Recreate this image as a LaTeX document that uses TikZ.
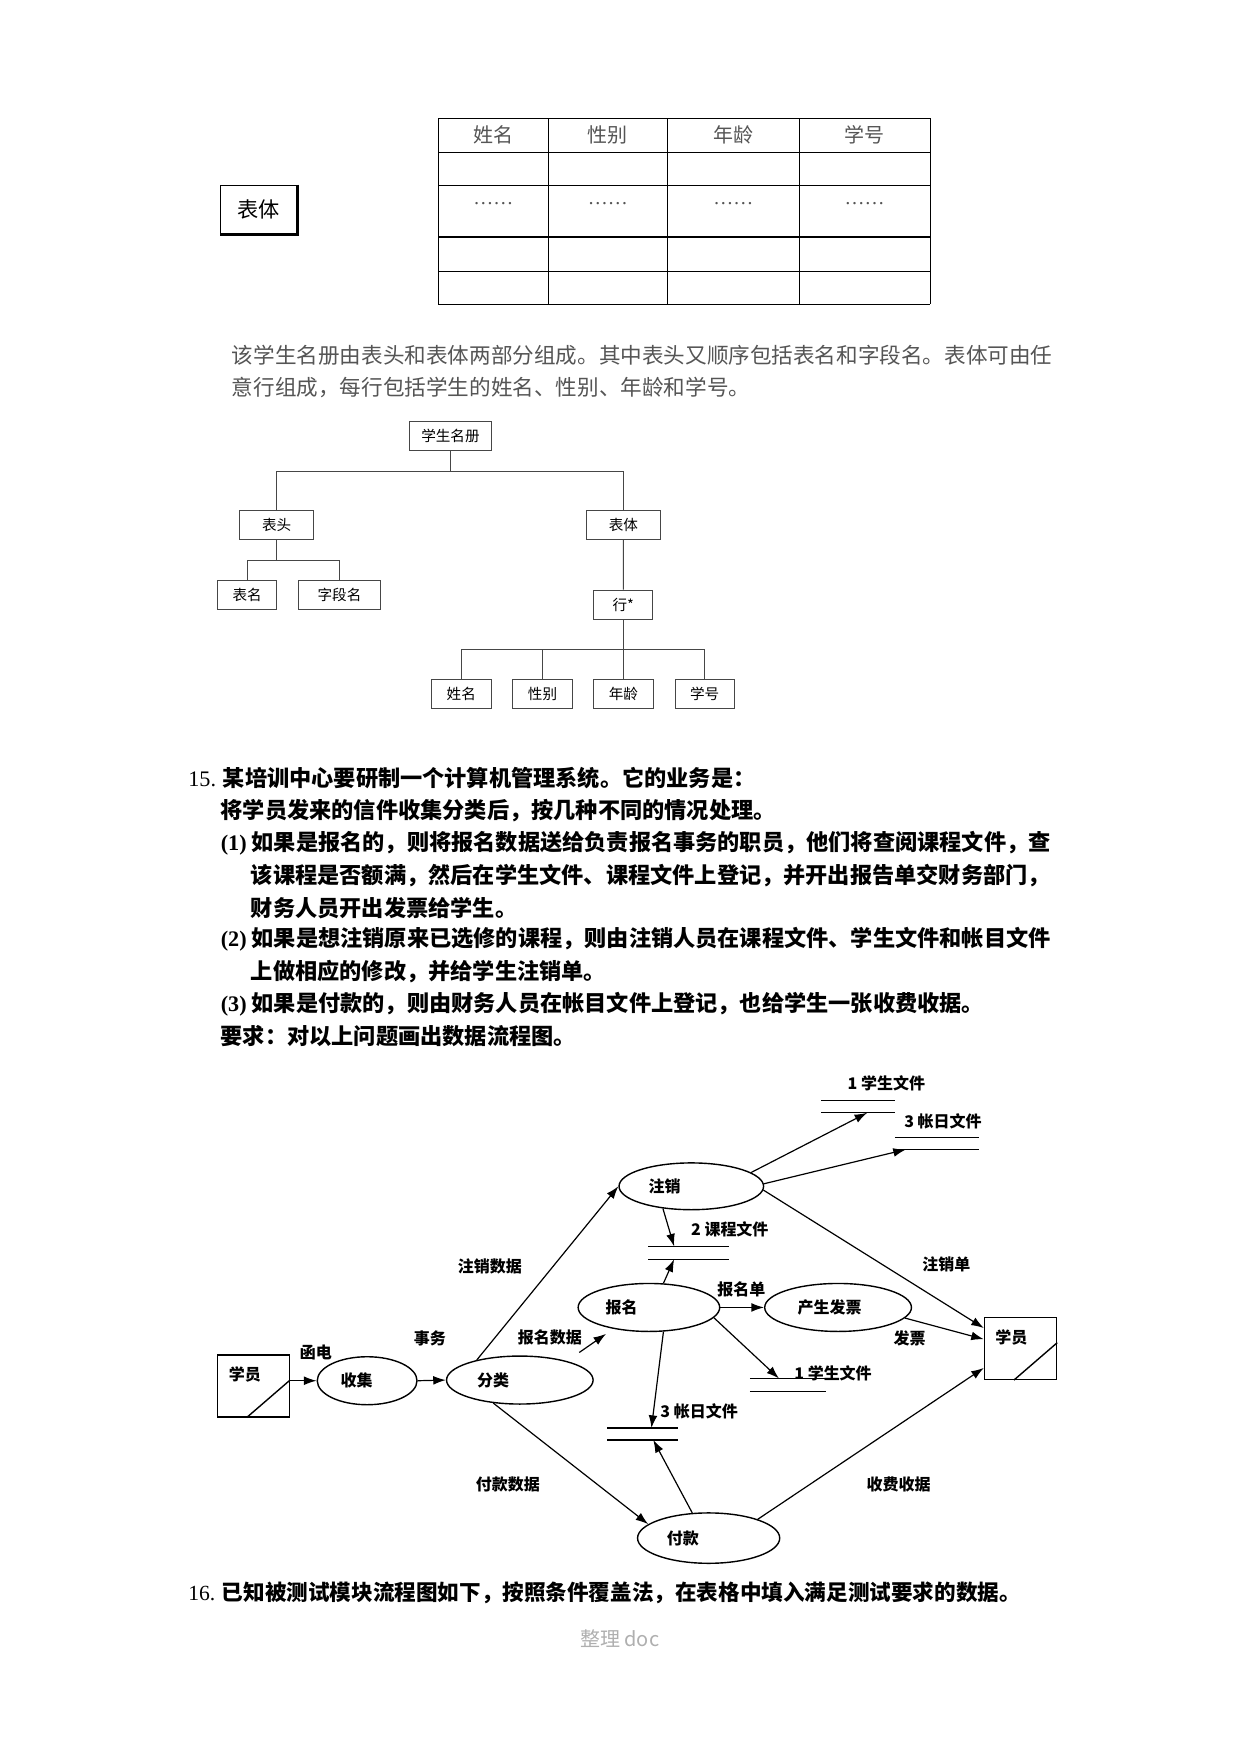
\documentclass[tikz,border=0pt]{standalone}
\usepackage{fontspec}
\setmainfont{Liberation Serif}
\newfontfamily\cjk{Noto Sans CJK SC}
\usetikzlibrary{shapes.geometric,arrows.meta,positioning,calc}
\definecolor{textgray}{RGB}{85,85,85}
\definecolor{treegray}{RGB}{70,70,70}
\definecolor{footgray}{RGB}{175,175,175}

\begin{document}
\begin{tikzpicture}[x=0.5595pt, y=-0.5595pt,
  hd/.style={inner sep=0, text=textgray, font=\cjk\fontsize{10}{12}\selectfont},
  para/.style={anchor=west, inner sep=0, text=textgray, font=\cjk\fontsize{10.8}{13}\selectfont},
  qline/.style={anchor=west, inner sep=0, font=\cjk\bfseries\fontsize{11.1}{13}\selectfont},
  tbox/.style={draw=treegray, line width=0.5pt, minimum height=14.5pt, inner sep=0, font=\cjk\fontsize{7.3}{8}\selectfont},
  proc/.style={draw, ellipse, line width=0.7pt, minimum height=24pt, inner sep=0},
  ext/.style={draw, line width=0.7pt, minimum width=36pt, minimum height=31pt, inner sep=0},
  store/.style={minimum height=5.6pt, inner sep=0},
  flow/.style={-{Latex[length=6.3pt,width=4.4pt]}, line width=0.6pt},
  lbl/.style={inner sep=0, font=\cjk\bfseries\fontsize{8}{9}\selectfont},
  every label/.style={inner sep=0, font=\cjk\bfseries\fontsize{8}{9}\selectfont},
]
\useasboundingbox (0,0) rectangle (1109,1568);
\fill[white] (0,0) rectangle (1109,1568);

% table of the register
\foreach \y in {105.7,136.1,165.6,211.8,242.5,272}
  \draw[line width=0.6pt] (391.7,\y) -- (831.6,\y);
\foreach \x in {391.7,490.4,596.5,714.5,831.6}
  \draw[line width=0.6pt] (\x,105.7) -- (\x,272);
\foreach \x/\t [count=\i] in {441/姓名,543.5/性别,655.5/年龄,773/学号} {
  \node[hd] (col\i) at (\x,120.6) {\t};
  \node[hd, font=\rmfamily\fontsize{10}{12}\selectfont] (dot\i) at (\x,181.7) {……};
}
\node[draw, line width=0.6pt, minimum width=38.3pt, minimum height=24.3pt, inner sep=0, font=\cjk\fontsize{10.6}{12}\selectfont] (tbody) at (231.3,187.4) {表体};
\draw[line width=1.2pt] (tbody.north east) -- (tbody.south east) -- (tbody.south west);

\node[para] (p1) at (207,317.2) {该学生名册由表头和表体两部分组成。其中表头又顺序包括表名和字段名。表体可由任};
\node[para] (p2) at (207,346.1) {意行组成，每行包括学生的姓名、性别、年龄和学号。};

% structure tree
\node[tbox, minimum width=40.7pt] (root) at (402.7,389.8) {学生名册};
\node[tbox, minimum width=36.9pt] (bh) at (247.3,469.5) {表头};
\node[tbox, minimum width=36.9pt] (bt) at (557.3,469.5) {表体};
\node[tbox, minimum width=29.7pt] (bmc) at (221,532) {表名};
\node[tbox, minimum width=40.7pt] (zdm) at (303.5,532) {字段名};
\node[tbox, minimum width=29.7pt] (hang) at (557.2,540.5) {行*};
\foreach \x/\t [count=\i] in {412.4/姓名,485/性别,557.3/年龄,630/学号}
  \node[tbox, minimum width=29.7pt] (lf\i) at (\x,620.3) {\t};
\draw[treegray, line width=0.5pt] (root.south) -- ++(0,18) -| (bh.north)
  (root.south) -- ++(0,18) -| (bt.north);
\draw[treegray, line width=0.5pt] (bh.south) -- ++(0,18.5) -| (bmc.north)
  (bh.south) -- ++(0,18.5) -| (zdm.north);
\draw[treegray, line width=0.5pt] (bt.south) -- (hang.north);
\foreach \i in {1,...,4}
  \draw[treegray, line width=0.5pt] (hang.south) -- ++(0,26.5) -| (lf\i.north);

% question 15
\node[qline] (q1) at (168,695.6) {{\rmfamily\mdseries 15.} 某培训中心要研制一个计算机管理系统。它的业务是：};
\node[qline] (q2) at (197,724.7) {将学员发来的信件收集分类后，按几种不同的情况处理。};
\node[qline] (q3) at (197,753.6) {{\rmfamily (1)} 如果是报名的，则将报名数据送给负责报名事务的职员，他们将查阅课程文件，查};
\node[qline] (q4) at (224,782.8) {该课程是否额满，然后在学生文件、课程文件上登记，并开出报告单交财务部门，};
\node[qline] (q5) at (224,811.8) {财务人员开出发票给学生。};
\node[qline] (q6) at (197,840) {{\rmfamily (2)} 如果是想注销原来已选修的课程，则由注销人员在课程文件、学生文件和帐目文件};
\node[qline] (q7) at (224,868.9) {上做相应的修改，并给学生注销单。};
\node[qline] (q8) at (197,898.1) {{\rmfamily (3)} 如果是付款的，则由财务人员在帐目文件上登记，也给学生一张收费收据。};
\node[qline] (q9) at (197,926.4) {要求：对以上问题画出数据流程图。};

% data flow diagram
\node[ext, label={[xshift=-4.2pt, yshift=5.7pt]center:学员}] (xy1) at (226.4,1238.9) {};
\node[proc, minimum width=49.9pt, label={[xshift=-5.3pt]center:收集}] (sj) at (328.2,1234.3) {};
\node[proc, minimum width=73.3pt, label={[xshift=-13.3pt]center:分类}] (fl) at (464.7,1233.7) {};
\node[proc, minimum width=72.3pt, minimum height=23.4pt, label={[xshift=-13.3pt]center:注销}] (zx) at (618,1060.5) {};
\node[proc, minimum width=70.8pt, label={[xshift=-13.7pt]center:报名}] (bm) at (580.1,1168.8) {};
\node[proc, minimum width=73.4pt, label={[xshift=-4.2pt]center:产生发票}] (fp) at (749.2,1168.8) {};
\node[proc, minimum width=71.1pt, minimum height=25.2pt, label={[xshift=-12.9pt]center:付款}] (fk) at (633.5,1375) {};
\node[ext, label={[xshift=-4.6pt, yshift=5.3pt]center:学员}] (xy2) at (912.3,1205.4) {};
\draw[line width=0.7pt] ($(xy1.south west)!0.41!(xy1.south east)$) -- ($(xy1.south east)!0.59!(xy1.north east)$);
\draw[line width=0.7pt] ($(xy2.south west)!0.41!(xy2.south east)$) -- ($(xy2.south east)!0.59!(xy2.north east)$);

\node[store, minimum width=36.6pt] (dsA) at (767,989.4) {};
\node[store, minimum width=41.4pt] (dsB) at (837.4,1022.2) {};
\node[store, minimum width=39.7pt, minimum height=6pt] (dsC) at (615.5,1120) {};
\node[store, minimum width=37.7pt, minimum height=6.2pt] (dsD) at (704.5,1238.2) {};
\node[store, minimum width=35.1pt] (dsE) at (574.7,1281.9) {};
\foreach \s in {dsA,dsB,dsC,dsD,dsE}
  \draw[line width=0.7pt] (\s.north west) -- (\s.north east) (\s.south west) -- (\s.south east);

\node[lbl] (ldsA) at (792.4,968.1) {1 学生文件};
\node[lbl] (ldsB) at (843,1002.4) {3 帐日文件};
\node[lbl] (ldsC) at (652.4,1099.2) {2 课程文件};
\node[lbl] (ldsD) at (744.7,1227.3) {1 学生文件};
\node[lbl] (ldsE) at (625,1262) {3 帐日文件};

\node[lbl] (fHD) at (282.4,1208.8) {函电};
\node[lbl] (fSW) at (384.3,1196.9) {事务};
\node[lbl] (fZXS) at (437.9,1132) {注销数据};
\node[lbl] (fBMS) at (491.5,1196) {报名数据};
\node[lbl] (fBMD) at (662.8,1152.8) {报名单};
\node[lbl] (fZXD) at (846,1130.5) {注销单};
\node[lbl] (fFP) at (813.2,1196) {发票};
\node[lbl] (fFKS) at (454,1327) {付款数据};
\node[lbl] (fSJ) at (803.3,1327.1) {收费收据};

\draw[flow] (xy1.east |- sj.west) -- (sj.west);
\draw[flow] (sj.east) -- (fl.west);
\draw[flow] (fl.155) -- (zx.west);
\draw[flow, shorten <=7.5pt, shorten >=4.4pt] (fl.22) -- (bm.211);
\draw[flow] (zx.13) -- (dsA.-33);
\draw[flow] (zx.2) -- (dsB.191);
\draw[flow] (zx.-3) -- (xy2.151);
\draw[flow] (zx.218) -- (dsC.156);
\draw[flow, {Latex[length=6.3pt,width=4.4pt]}-] (dsC.204) -- (bm.59);
\draw[flow] (bm.east) -- (fp.west);
\draw[flow] (fp.-9) -- (xy2.166);
\draw[flow] (bm.-9) -- (dsD.144);
\draw[flow] (bm.301) -- (dsE.35);
\draw[flow] (fk.123) -- (dsE.-30);
\draw[flow] (fl.221) -- (fk.167);
\draw[flow] (fk.21) -- (xy2.208);

% question 16 and footer
\node[qline, font=\cjk\bfseries\fontsize{10.8}{13}\selectfont] (q16) at (168,1424) {{\rmfamily\mdseries 16.} 已知被测试模块流程图如下，按照条件覆盖法，在表格中填入满足测试要求的数据。};
\node[inner sep=0, text=footgray, font=\cjk\fontsize{10}{12}\selectfont] (foot) at (554,1465) {整理 doc};
\end{tikzpicture}
\end{document}
